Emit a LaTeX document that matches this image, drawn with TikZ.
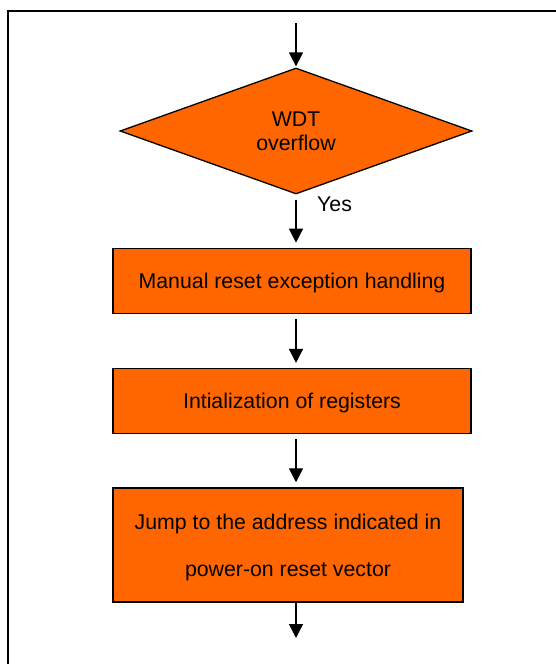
\documentclass[tikz,border=0pt]{standalone}
\usepackage{fontspec}
\setmainfont{Liberation Sans}
\usetikzlibrary{arrows.meta,positioning,shapes.geometric}
\definecolor{WdtOrange}{HTML}{FF6600}
\tikzset{
  stepbox/.style={draw=black,line width=1.3pt,fill=WdtOrange,align=center,
              minimum width=358pt,minimum height=65pt,inner sep=0pt,text depth=0pt,
              font=\fontsize{21.3}{25}\selectfont},
  decision/.style={diamond,draw=black,line width=1.3pt,fill=WdtOrange,align=center,
              aspect=2.79,minimum width=352pt,minimum height=126pt,inner sep=0pt,
              font=\fontsize{21.3}{24}\selectfont},
  flow/.style={-{Triangle[length=14pt,width=14pt]},line width=1.4pt,draw=black,
              shorten <=5pt,shorten >=5pt},
  frame/.style={draw=black,line width=2pt},
  note/.style={font=\fontsize{21.3}{25}\selectfont,inner sep=0pt}
}
\begin{document}
\begin{tikzpicture}[x=1pt,y=1pt,node distance=53pt]
  \useasboundingbox (0,0) rectangle (556,-664);
  \draw[frame] (556,-11) -- (8,-11) -- (8,-664);

  \coordinate (start) at (296,-23);
  \node[decision] (wdt) at (296,-131) {WDT\\overflow};
  \node[stepbox,below=of wdt,xshift=-4pt] (manual) {Manual reset exception handling};
  \node[stepbox,below=54pt of manual] (init) {Intialization of registers};
  \node[stepbox,below=of init,xshift=-4pt,minimum width=350pt,minimum height=114pt,
        font=\fontsize{21.3}{47}\selectfont] (jump) {Jump to the address indicated in\\power-on reset vector};
  \coordinate (stop) at (296,-638);
  \node[note,anchor=base west] (yes) at (317,-211.7) {Yes};

  \draw[flow,shorten <=0pt,shorten >=1pt] (start) -- (wdt);
  \draw[flow] (wdt) -- (manual.north -| wdt.south);
  \draw[flow] (manual.south -| wdt.south) -- (init.north -| wdt.south);
  \draw[flow] (init.south -| wdt.south) -- (jump.north -| wdt.south);
  \draw[flow,shorten <=0pt,shorten >=0pt] (jump.south -| stop) -- (stop);
\end{tikzpicture}
\end{document}
